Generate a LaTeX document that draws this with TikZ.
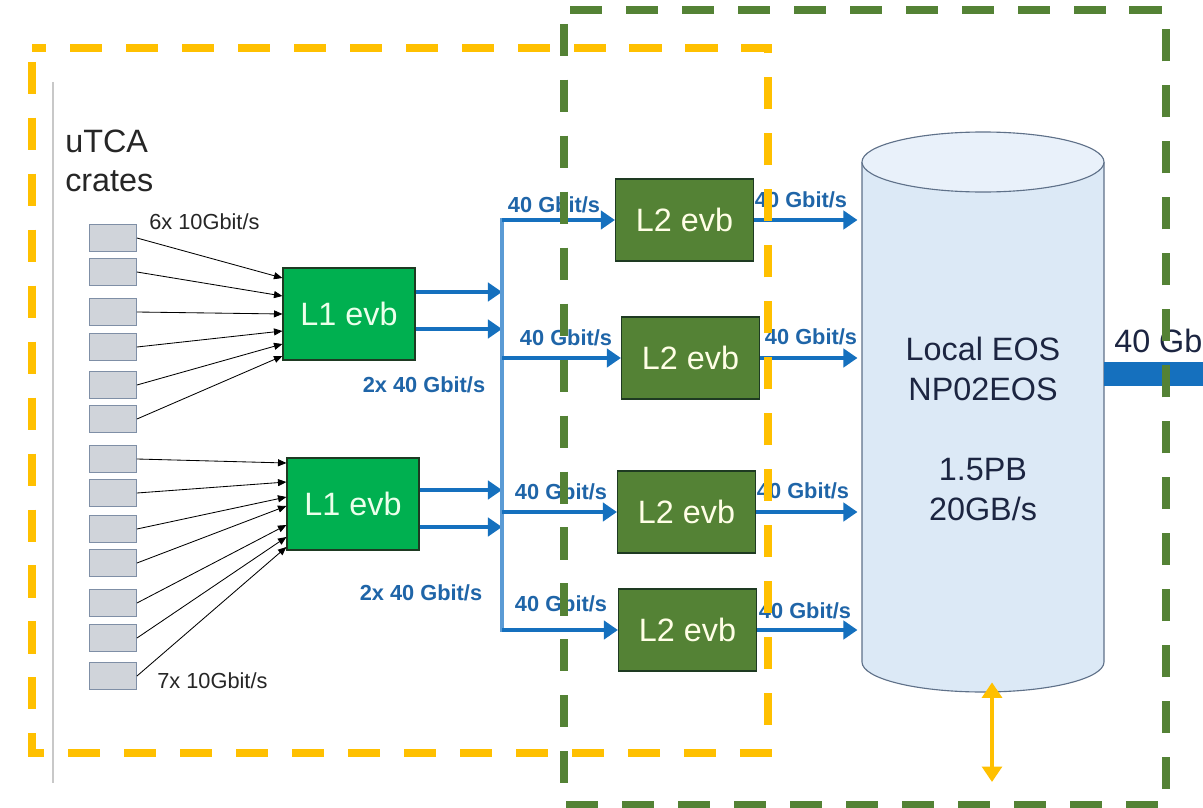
\documentclass[tikz,border=0pt]{standalone}
\usepackage{fontspec}
\setmainfont{Liberation Sans}
\usetikzlibrary{arrows.meta,positioning,calc}
\definecolor{crategray}{HTML}{D0D4DA}
\definecolor{crateedge}{HTML}{7F8FA6}
\definecolor{lonegreen}{HTML}{00B050}
\definecolor{ltwogreen}{HTML}{548235}
\definecolor{boxedge}{HTML}{1E3A22}
\definecolor{flowblue}{HTML}{1570BE}
\definecolor{busblue}{HTML}{5B9BD5}
\definecolor{rateblue}{HTML}{1F65A8}
\definecolor{eosfill}{HTML}{DCE9F6}
\definecolor{eostop}{HTML}{E9F1FA}
\definecolor{eosedge}{HTML}{5F7189}
\definecolor{eosink}{HTML}{1C2541}
\definecolor{amber}{HTML}{FFC000}
\definecolor{lineg}{HTML}{C8C8C8}

\begin{document}
\begin{tikzpicture}[x=0.025cm, y=0.025cm,
  crate/.style={draw=crateedge, fill=crategray, line width=0.8pt, minimum width=1.17cm, minimum height=0.67cm, inner sep=0pt},
  evb/.style={draw=boxedge, line width=0.8pt, font=\fontsize{23}{28}\selectfont, inner sep=0pt},
  lone/.style={evb, fill=lonegreen, text=white!92!green, minimum width=3.3cm, minimum height=2.3cm},
  ltwo/.style={evb, fill=ltwogreen, text=white!90!yellow, minimum width=3.45cm, minimum height=2.05cm},
  feed/.style={-{Triangle[length=6pt,width=5pt]}, line width=0.6pt, black},
  flow/.style={-{Triangle[length=10pt,width=13pt]}, line width=3.5pt, flowblue},
  rate/.style={font=\fontsize{15.5}{18}\selectfont\bfseries, text=rateblue, inner sep=0pt, anchor=base},
  small/.style={font=\fontsize{15.5}{18}\selectfont, text=black!85, inner sep=0pt, anchor=base west},
  zone/.style={line width=5pt, dash pattern=on 22.8pt off 17pt, dash phase=30pt},
]
\fill[white] (0,0) rectangle (1203,-808);
\useasboundingbox (0,0) rectangle (1203,-808);

\draw[lineg, line width=0.8pt] (53,-82) -- (53,-783);
\node[font=\fontsize{23}{27.7}\selectfont, text=black!85, align=left, anchor=north west, inner sep=0pt] (utca) at (65,-130) {uTCA\\crates};

\foreach \cy [count=\i] in {238,272,312,347,385,419,459,493,529,563,603,638,676} {
  \node[crate] (crate\i) at (113,-\cy) {};
}
\node[small] (sixrate) at (149,-229) {6x 10Gbit/s};
\node[small] (sevenrate) at (157,-688) {7x 10Gbit/s};

\node[lone] (lonea) at (349,-314) {L1 evb};
\node[lone] (loneb) at (353,-504) {L1 evb};

\foreach \i/\dy in {1/36,2/18,3/0,4/-17,5/-30,6/-42}
  \draw[feed] (crate\i.east) -- ($(lonea.west)+(0,\dy)$);
\foreach \i/\dy in {7/41,8/22,9/7,10/-2,11/-21,12/-33,13/-43}
  \draw[feed] (crate\i.east) -- ($(loneb.west)+(0,\dy)$);

\node[rate] (twoa) at (424,-392) {2x 40 Gbit/s};
\node[rate] (twob) at (421,-600) {2x 40 Gbit/s};

\coordinate (bus) at (502,-420);
\node[ltwo] (ltwoa) at (684.5,-220) {L2 evb};
\node[ltwo] (ltwob) at (690.5,-358) {L2 evb};
\node[ltwo] (ltwoc) at (686.5,-512) {L2 evb};
\node[ltwo] (ltwod) at (687.5,-630) {L2 evb};

\foreach \src/\dy in {lonea/22,lonea/-15,loneb/14,loneb/-23} {
  \path ($(\src.east)+(0,\dy)$) coordinate (tap);
  \draw[flow] (tap) -- (tap -| bus);
}
\draw[busblue, line width=3.5pt] ($(ltwoa.west -| bus)+(0,2)$) -- ($(ltwod.west -| bus)+(0,-2)$);
\foreach \dst in {ltwoa,ltwob,ltwoc,ltwod}
  \draw[flow] (\dst.west -| bus) -- (\dst.west);

\node[rate] (ina) at (554,-212) {40 Gbit/s};
\node[rate] (inb) at (566,-345) {40 Gbit/s};
\node[rate] (inc) at (561,-499) {40 Gbit/s};
\node[rate] (ind) at (561,-611) {40 Gbit/s};

\fill[eosfill] (862,-162) -- (862,-662) arc[start angle=180, end angle=360, x radius=121, y radius=30] -- (1104,-162) -- cycle;
\draw[eosedge, line width=0.8pt] (862,-162) -- (862,-662) arc[start angle=180, end angle=360, x radius=121, y radius=30] -- (1104,-162);
\draw[eosedge, line width=0.8pt, fill=eostop] (983,-162) ellipse[x radius=121, y radius=30];
\node[font=\fontsize{23}{28.4}\selectfont, text=eosink, align=center, inner sep=0pt, minimum width=6.05cm, minimum height=13.35cm] (eos) at (983,-429) {Local EOS\\NP02EOS\\[28.4pt]1.5PB\\20GB/s};

\foreach \src in {ltwoa,ltwob,ltwoc,ltwod}
  \draw[flow, shorten >=3pt] (\src.east) -- (\src.east -| eos.west);

\node[rate] (outa) at (801,-207) {40 Gbit/s};
\node[rate] (outb) at (811,-344) {40 Gbit/s};
\node[rate] (outc) at (803,-498) {40 Gbit/s};
\node[rate] (outd) at (805,-618) {40 Gbit/s};

\coordinate (wan) at (1215,-374);
\draw[flowblue, line width=17.5pt] (eos.east |- wan) -- (wan);
\node[font=\fontsize{23}{28}\selectfont, text=eosink, anchor=base west, inner sep=0pt] (wanrate) at (1114,-352) {40 Gbit/s};

\coordinate (archive) at (992,-782);
\draw[amber, line width=3.5pt, {Triangle[length=11pt,width=14pt]}-{Triangle[length=11pt,width=14pt]}] ($(archive |- eos.south)+(0,14)$) -- (archive);

\draw[amber, zone] (32,-48) rectangle (768,-753);
\draw[ltwogreen, zone] (564,-10) rectangle (1166,-805);
\end{tikzpicture}
\end{document}
